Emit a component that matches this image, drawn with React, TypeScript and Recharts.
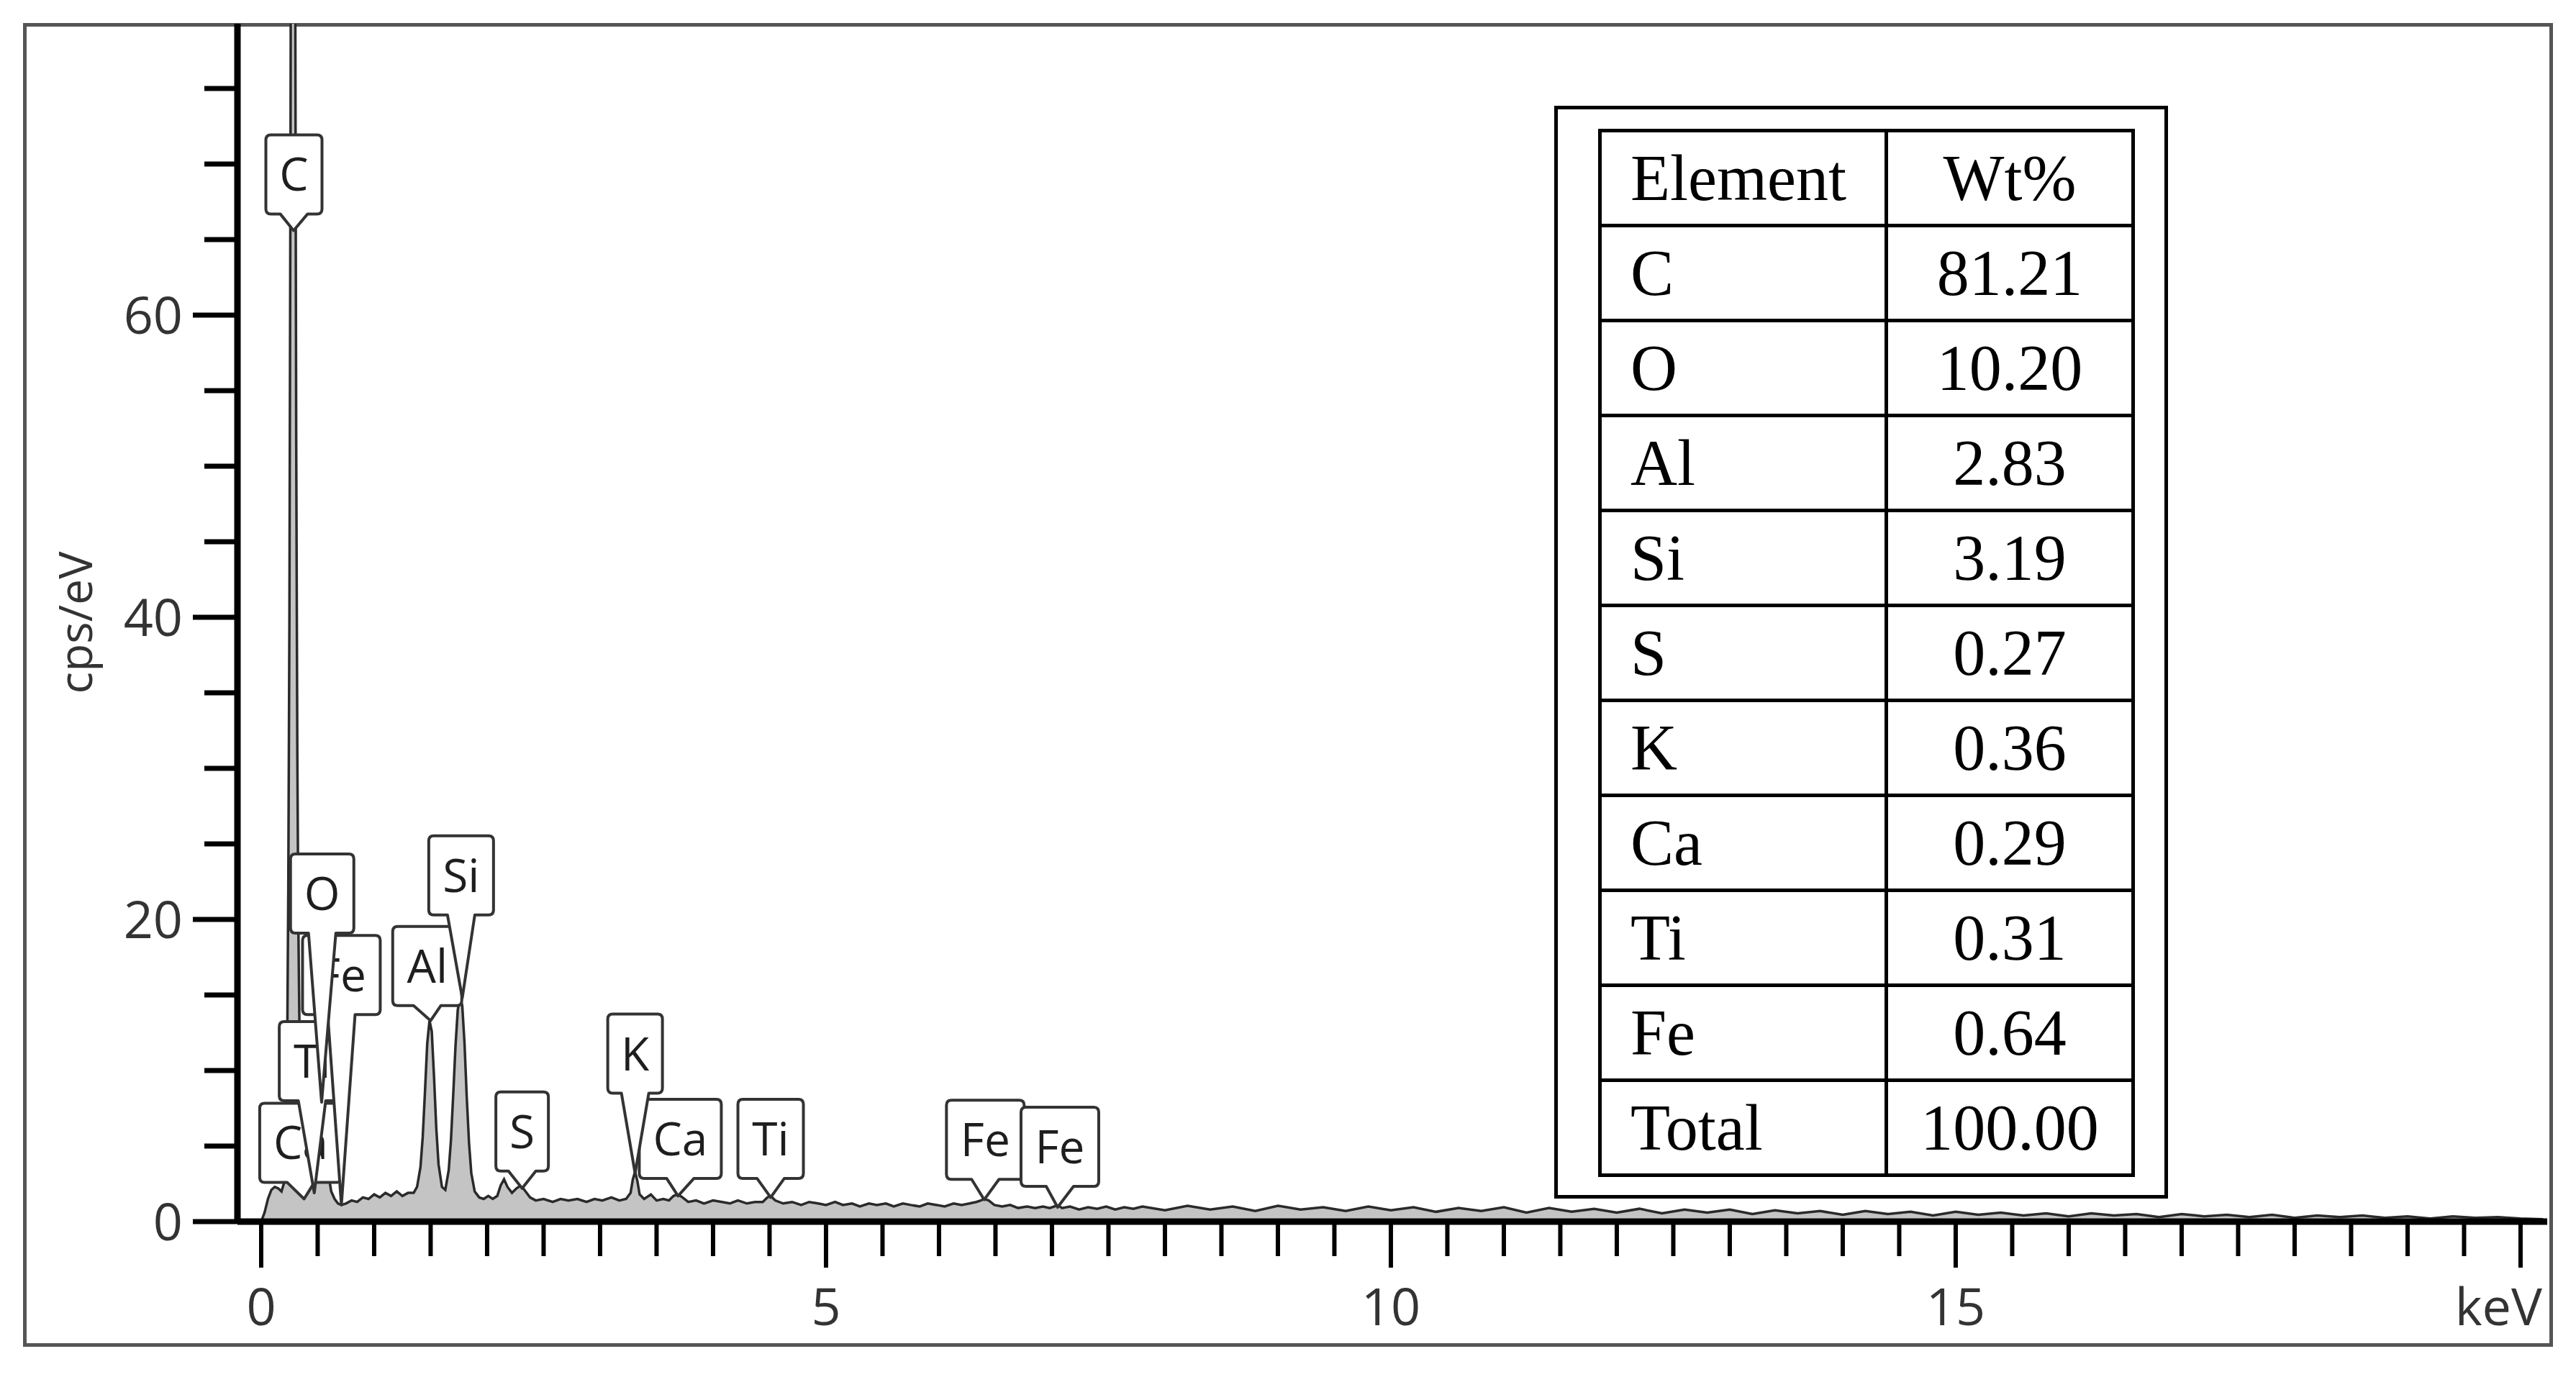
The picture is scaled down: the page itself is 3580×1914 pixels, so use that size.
import { Area, ComposedChart, ReferenceLine, XAxis, YAxis } from "recharts";

// EDS spectrum (keV, cps/eV)
const energies = [
  0.0, 0.03, 0.06, 0.09, 0.12, 0.15, 0.18, 0.2, 0.22, 0.23, 0.24, 0.25, 0.26, 0.27, 0.28, 0.29, 0.3, 0.31, 0.32,
  0.33, 0.34, 0.35, 0.37, 0.4, 0.43, 0.46, 0.48, 0.5, 0.52, 0.535, 0.55, 0.57, 0.59, 0.62, 0.65, 0.68, 0.71, 0.75,
  0.8, 0.85, 0.9, 0.95, 1.0, 1.05, 1.1, 1.15, 1.2, 1.25, 1.3, 1.35, 1.38, 1.41, 1.43, 1.45, 1.47, 1.49, 1.51, 1.53,
  1.55, 1.57, 1.6, 1.63, 1.66, 1.68, 1.7, 1.72, 1.74, 1.76, 1.78, 1.8, 1.82, 1.84, 1.86, 1.89, 1.93, 1.97, 2.01,
  2.05, 2.09, 2.12, 2.15, 2.18, 2.22, 2.26, 2.3, 2.34, 2.38, 2.43, 2.5, 2.58, 2.65, 2.72, 2.8, 2.88, 2.95, 3.02,
  3.1, 3.17, 3.23, 3.27, 3.29, 3.31, 3.33, 3.35, 3.39, 3.45, 3.5, 3.56, 3.61, 3.65, 3.69, 3.73, 3.78, 3.85, 3.92,
  4.0, 4.08, 4.15, 4.22, 4.3, 4.37, 4.44, 4.48, 4.51, 4.55, 4.62, 4.7, 4.78, 4.85, 4.93, 5.0, 5.08, 5.15, 5.23,
  5.3, 5.38, 5.45, 5.53, 5.6, 5.68, 5.75, 5.83, 5.9, 5.98, 6.05, 6.13, 6.2, 6.27, 6.33, 6.37, 6.4, 6.44, 6.49,
  6.56, 6.63, 6.7, 6.78, 6.85, 6.92, 6.98, 7.02, 7.05, 7.09, 7.16, 7.24, 7.32, 7.4, 7.48, 7.56, 7.64, 7.72, 7.8,
  8.0, 8.2, 8.4, 8.6, 8.8, 9.0, 9.2, 9.4, 9.6, 9.8, 10.0, 10.2, 10.4, 10.6, 10.8, 11.0, 11.2, 11.4, 11.6, 11.8,
  12.0, 12.2, 12.4, 12.6, 12.8, 13.0, 13.2, 13.4, 13.6, 13.8, 14.0, 14.2, 14.4, 14.6, 14.8, 15.0, 15.2, 15.4,
  15.6, 15.8, 16.0, 16.2, 16.4, 16.6, 16.8, 17.0, 17.2, 17.4, 17.6, 17.8, 18.0, 18.2, 18.4, 18.6, 18.8, 19.0,
  19.2, 19.4, 19.6, 19.8, 20.0, 20.2,
];
const counts = [
  0.0, 0.6, 1.5, 2.1, 2.3, 2.2, 2.0, 2.5, 5.5, 11, 22, 40, 72, 118, 160, 132, 88, 52, 31,
  19, 12, 7.5, 3.6, 2.0, 2.4, 3.4, 4.8, 6.4, 7.6, 8.0, 7.3, 5.4, 3.4, 2.0, 1.5, 1.2, 1.1, 1.2,
  1.4, 1.3, 1.6, 1.5, 1.8, 1.6, 1.9, 1.7, 2.0, 1.7, 1.9, 1.9, 2.3, 3.6, 5.6, 8.6, 11.8, 13.3, 12.6, 9.6,
  6.2, 3.8, 2.3, 2.1, 3.4, 5.4, 8.4, 11.6, 14.0, 14.9, 14.3, 11.8, 8.2, 5.2, 3.2, 2.0, 1.6, 1.5, 1.7,
  1.5, 1.7, 2.4, 2.8, 2.3, 1.9, 2.2, 2.4, 2.0, 1.6, 1.4, 1.5, 1.3, 1.5, 1.4, 1.5, 1.3, 1.5, 1.4,
  1.6, 1.4, 1.5, 1.9, 2.8, 3.3, 2.7, 1.8, 1.5, 1.8, 1.4, 1.5, 1.4, 1.7, 1.8, 1.6, 1.3, 1.4, 1.2,
  1.4, 1.3, 1.2, 1.4, 1.2, 1.3, 1.3, 1.6, 1.7, 1.4, 1.2, 1.3, 1.1, 1.3, 1.2, 1.1, 1.3, 1.1, 1.2,
  1.0, 1.2, 1.1, 1.2, 1.0, 1.2, 1.1, 1.0, 1.2, 1.1, 1.0, 1.2, 1.1, 1.2, 1.3, 1.4, 1.5, 1.4, 1.1,
  1.0, 1.1, 0.9, 1.0, 0.9, 1.0, 0.9, 1.0, 1.1, 0.9, 1.0, 0.8, 0.95, 0.85, 1.0, 0.8, 0.95, 0.85, 1.0,
  0.75, 1.05, 0.8, 1.0, 0.7, 1.05, 0.8, 0.95, 0.7, 1.0, 0.75, 0.95, 0.65, 0.9, 0.7, 0.95, 0.6, 0.9, 0.65, 0.85,
  0.6, 0.85, 0.55, 0.8, 0.6, 0.8, 0.5, 0.75, 0.55, 0.7, 0.45, 0.7, 0.5, 0.65, 0.4, 0.65, 0.45, 0.6,
  0.4, 0.55, 0.35, 0.55, 0.4, 0.5, 0.3, 0.5, 0.35, 0.45, 0.3, 0.45, 0.25, 0.4, 0.3, 0.4, 0.25, 0.35,
  0.2, 0.35, 0.25, 0.3, 0.2, 0.15,
];

// peak callouts: tip on the spectrum, box anchored above it
const peakLabels = ["Ca", "Ti", "Fe", "O", "C", "Al", "Si", "S", "Ca", "K", "Ti", "Fe", "Fe"];
const peakTipKev = [0.38, 0.47, 0.71, 0.535, 0.287, 1.5, 1.78, 2.31, 3.69, 3.31, 4.51, 6.4, 7.05];
const peakTipCps = [1.5, 1.9, 1.1, 7.9, 65.6, 13.3, 14.8, 2.2, 1.7, 3.2, 1.6, 1.45, 0.95];
const boxKev = [0.35, 0.45, 0.71, 0.54, 0.29, 1.47, 1.77, 2.31, 3.71, 3.31, 4.51, 6.41, 7.07];
const boxCps = [2.6, 8.0, 13.7, 19.1, 66.7, 14.3, 20.3, 3.35, 2.86, 8.5, 2.86, 2.8, 2.33];

// quantification table
const tableElements = ["C", "O", "Al", "Si", "S", "K", "Ca", "Ti", "Fe", "Total"];
const tableWeights = ["81.21", "10.20", "2.83", "3.19", "0.27", "0.36", "0.29", "0.31", "0.64", "100.00"];

const xTicks = [
  0, 0.5, 1, 1.5, 2, 2.5, 3, 3.5, 4, 4.5, 5, 5.5, 6, 6.5, 7, 7.5, 8, 8.5, 9, 9.5, 10, 10.5, 11, 11.5, 12, 12.5,
  13, 13.5, 14, 14.5, 15, 15.5, 16, 16.5, 17, 17.5, 18, 18.5, 19, 19.5, 20,
];
const xLabelValues = [0, 5, 10, 15, 20];
const xLabelTexts = ["0", "5", "10", "15", "keV"];
const yTicks = [0, 5, 10, 15, 20, 25, 30, 35, 40, 45, 50, 55, 60, 65, 70, 75];
const yLabelValues = [0, 20, 40, 60];

const X_MIN = -0.21;
const X_MAX = 20.236;
const Y_MAX = 79.29;

const data = energies.map((kev, i) => ({ kev, cps: counts[i] }));

const SANS = "'Open Sans', 'DejaVu Sans', sans-serif";
const SERIF = "'Liberation Serif', 'Times New Roman', serif";

const charWidth: Record<string, number> = {
  C: 40, O: 50, S: 35, K: 38, F: 34, e: 36, i: 17, l: 17, a: 36, A: 41, T: 36,
};
const textWidth = (t: string) => t.split("").reduce((s, c) => s + (charWidth[c] ?? 36), 0);

function XTick(props: any) {
  const { x, y, payload } = props;
  const i = xLabelValues.indexOf(payload.value);
  const major = i >= 0;
  const unit = xLabelTexts[i] === "keV";
  return (
    <g>
      <line x1={x} x2={x} y1={y} y2={y + (major ? 64 : 48)} stroke="#000" strokeWidth={6} />
      {major && (
        <text
          x={unit ? x + 30 : x}
          y={y + 118}
          dy="0.36em"
          textAnchor={unit ? "end" : "middle"}
          fontSize={72}
          fontFamily={SANS}
          fill="#333"
        >
          {xLabelTexts[i]}
        </text>
      )}
    </g>
  );
}

function YTick(props: any) {
  const { x, y, payload } = props;
  const major = yLabelValues.includes(payload.value);
  return (
    <g>
      <line x1={x} x2={x - (major ? 62 : 46)} y1={y} y2={y} stroke="#000" strokeWidth={7} />
      {major && (
        <text x={x - 76} y={y} dy="0.36em" textAnchor="end" fontSize={72} fontFamily={SANS} fill="#333">
          {payload.value}
        </text>
      )}
    </g>
  );
}

function Callout(props: any) {
  const { x1, y1, x2, y2, text } = props;
  const w = textWidth(text) + 38;
  const h = 110;
  const hw = 19;
  const r = 7;
  const left = x1 - w / 2;
  const right = x1 + w / 2;
  const top = y1 - h;
  const d = [
    `M${left + r},${top}`,
    `H${right - r}`,
    `Q${right},${top} ${right},${top + r}`,
    `V${y1 - r}`,
    `Q${right},${y1} ${right - r},${y1}`,
    `H${x1 + hw}`,
    `L${x2},${y2}`,
    `L${x1 - hw},${y1}`,
    `H${left + r}`,
    `Q${left},${y1} ${left},${y1 - r}`,
    `V${top + r}`,
    `Q${left},${top} ${left + r},${top}`,
    "Z",
  ].join(" ");
  return (
    <g>
      <path d={d} fill="#fff" stroke="#333" strokeWidth={4} strokeLinejoin="round" />
      <text x={x1} y={top + h / 2} dy="0.36em" textAnchor="middle" fontSize={64} fontFamily={SANS} fill="#1e1e1e">
        {text}
      </text>
    </g>
  );
}

function YLabel(props: any) {
  const vb = props.viewBox;
  const cx = vb.x + 105;
  const cy = vb.y + vb.height / 2;
  return (
    <text
      x={cx}
      y={cy}
      dy="0.36em"
      textAnchor="middle"
      transform={`rotate(-90 ${cx} ${cy})`}
      fontSize={64}
      fontFamily={SANS}
      fill="#333"
    >
      cps/eV
    </text>
  );
}

function WeightTable() {
  const cell = {
    border: "5px solid #000",
    padding: 0,
    height: 127,
    fontFamily: SERIF,
    fontSize: 90,
    lineHeight: 1,
    color: "#000",
  };
  return (
    <div
      style={{
        position: "absolute",
        left: 2160,
        top: 147,
        width: 853,
        height: 1519,
        border: "5px solid #000",
        boxSizing: "border-box",
        background: "#fff",
      }}
    >
      <table
        style={{
          position: "absolute",
          left: 56,
          top: 27,
          borderCollapse: "collapse",
          tableLayout: "fixed",
          width: 746,
        }}
      >
        <colgroup>
          <col style={{ width: 398 }} />
          <col style={{ width: 343 }} />
        </colgroup>
        <tbody>
          <tr>
            <td style={{ ...cell, textAlign: "left", paddingLeft: 40 }}>Element</td>
            <td style={{ ...cell, textAlign: "center" }}>Wt%</td>
          </tr>
          {tableElements.map((el, i) => (
            <tr key={el}>
              <td style={{ ...cell, textAlign: "left", paddingLeft: 40 }}>{el}</td>
              <td style={{ ...cell, textAlign: "center" }}>{tableWeights[i]}</td>
            </tr>
          ))}
        </tbody>
      </table>
    </div>
  );
}

export default function App() {
  return (
    <div style={{ position: "absolute", left: 0, top: 0, width: 3580, height: 1914, background: "#fff" }}>
      <div
        style={{
          position: "absolute",
          left: 32,
          top: 32,
          width: 3516,
          height: 1840,
          border: "5px solid #555",
          boxSizing: "border-box",
        }}
      />
      <div style={{ position: "absolute", left: 0, top: 0 }}>
        <ComposedChart width={3580} height={1914} data={data} margin={{ top: 33, right: 40, bottom: 0, left: 0 }}>
          <XAxis
            dataKey="kev"
            type="number"
            domain={[X_MIN, X_MAX]}
            ticks={xTicks}
            interval={0}
            allowDataOverflow
            height={216}
            tickSize={0}
            tickMargin={0}
            tickLine={false}
            axisLine={{ stroke: "#000", strokeWidth: 9 }}
            tick={(p: any) => <XTick {...p} />}
          />
          <YAxis
            type="number"
            domain={[0, Y_MAX]}
            ticks={yTicks}
            interval={0}
            allowDataOverflow
            width={330}
            tickSize={0}
            tickMargin={0}
            tickLine={false}
            axisLine={{ stroke: "#000", strokeWidth: 9 }}
            tick={(p: any) => <YTick {...p} />}
            label={{ content: (p: any) => <YLabel {...p} /> }}
          />
          {peakLabels.map((el, i) => (
            <ReferenceLine
              key={`${el}-${i}`}
              ifOverflow="visible"
              segment={[
                { x: boxKev[i], y: boxCps[i] },
                { x: peakTipKev[i], y: peakTipCps[i] },
              ]}
              shape={(p: any) => <Callout {...p} text={el} />}
            />
          ))}
          <Area
            dataKey="cps"
            type="linear"
            fill="#c4c4c4"
            fillOpacity={1}
            stroke="#2a2a2a"
            strokeWidth={3.5}
            dot={false}
            activeDot={false}
            isAnimationActive={false}
          />
        </ComposedChart>
      </div>
      <WeightTable />
    </div>
  );
}
